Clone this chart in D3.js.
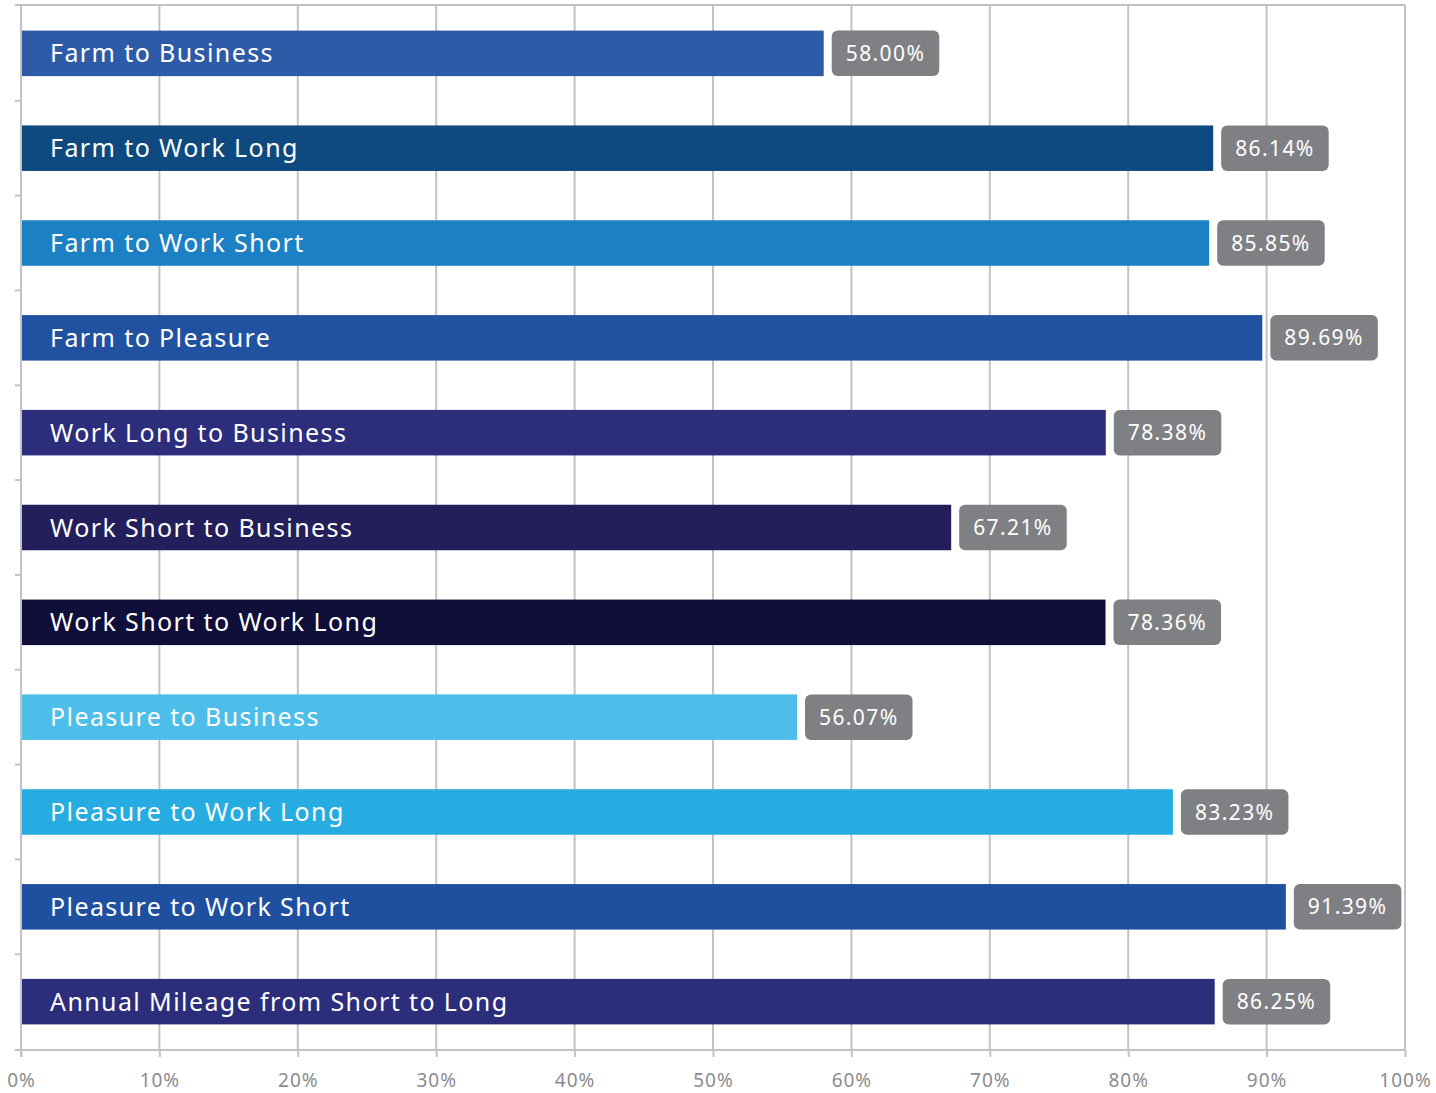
<!DOCTYPE html>
<html><head><meta charset="utf-8">
<script src="https://cdn.jsdelivr.net/npm/d3@7/dist/d3.min.js"></script>
<style>body{margin:0;background:#fff}svg{display:block}text{font-family:"Noto Sans","Open Sans",sans-serif}</style>
</head><body><svg id="c" width="1436" height="1093"></svg>
<script>
const categories = ["Farm to Business","Farm to Work Long","Farm to Work Short","Farm to Pleasure","Work Long to Business","Work Short to Business","Work Short to Work Long","Pleasure to Business","Pleasure to Work Long","Pleasure to Work Short","Annual Mileage from Short to Long"];
const values = [58.00,86.14,85.85,89.69,78.38,67.21,78.36,56.07,83.23,91.39,86.25];
const colors = ["#2e5ba8","#0e4a7f","#1c80c4","#2152a2","#2c2d7b","#221f5b","#0f0f3a","#4dbde9","#27ace2","#1f50a0","#2c2d7b"];
const ticks = [0,10,20,30,40,50,60,70,80,90,100];

const svg = d3.select("#c");
const L=21,R=1405,T=5,B=1050;
const x = d3.scaleLinear().domain([0,100]).range([L,R]);
const y = d3.scaleBand().domain(categories).range([T,B]).paddingInner(0.52).paddingOuter(0.27);
const grid="#c3c3c5";

svg.append("g").selectAll("line").data(ticks.slice(1,-1)).join("line")
 .attr("x1",d=>x(d)).attr("x2",d=>x(d)).attr("y1",T).attr("y2",B)
 .attr("stroke",grid).attr("stroke-width",2);
svg.append("line").attr("x1",15).attr("x2",R).attr("y1",T).attr("y2",T).attr("stroke",grid).attr("stroke-width",2);
svg.append("line").attr("x1",R).attr("x2",R).attr("y1",T).attr("y2",B).attr("stroke",grid).attr("stroke-width",2);
svg.append("line").attr("x1",L).attr("x2",L).attr("y1",T).attr("y2",B+7).attr("stroke",grid).attr("stroke-width",2);
const bounds = categories.slice(1).map(c=>y(c)-y.step()*y.paddingInner()/2);
svg.append("g").selectAll("line").data(bounds).join("line")
 .attr("x1",15).attr("x2",L).attr("y1",d=>d).attr("y2",d=>d).attr("stroke",grid).attr("stroke-width",2);

const ax = d3.axisBottom(x).tickValues(ticks).tickFormat(d=>d+"%").tickSize(7).tickPadding(17);
const g = svg.append("g").attr("transform",`translate(0,${B})`).call(ax);
g.select(".domain").attr("d",`M15,0H${R}`).attr("stroke",grid).attr("stroke-width",2);
g.selectAll(".tick line").attr("stroke",grid).attr("stroke-width",2);
g.selectAll(".tick text").attr("fill","#8c8c8e").attr("font-size",19).attr("letter-spacing",1).style("font-family",'"Noto Sans",sans-serif');

const rows = categories.map((c,i)=>({c,v:values[i],col:colors[i]}));
const bg = svg.append("g").selectAll("g").data(rows).join("g");
bg.append("rect").attr("x",x(0)+1).attr("y",d=>y(d.c)).attr("width",d=>x(d.v)-x(0)-1).attr("height",y.bandwidth()).attr("fill",d=>d.col);
bg.append("text").attr("x",50).attr("y",d=>y(d.c)+y.bandwidth()/2).attr("dy","0.36em")
 .attr("fill","#fff").attr("font-size",25).attr("letter-spacing",1.4).text(d=>d.c);
bg.each(function(d){
  const gg=d3.select(this);
  const t=gg.append("text").attr("font-size",21).attr("letter-spacing",1.4).attr("fill","#fff").attr("text-anchor","middle").text(d.v.toFixed(2)+"%");
  const w=t.node().getComputedTextLength()+28;
  const bx=x(d.v)+8;
  gg.insert("rect","text:last-child").attr("x",bx).attr("y",y(d.c)).attr("width",w).attr("height",y.bandwidth()).attr("rx",6).attr("fill","#7f8084");
  t.attr("x",bx+w/2).attr("y",y(d.c)+y.bandwidth()/2).attr("dy","0.36em");
});
</script></body></html>
